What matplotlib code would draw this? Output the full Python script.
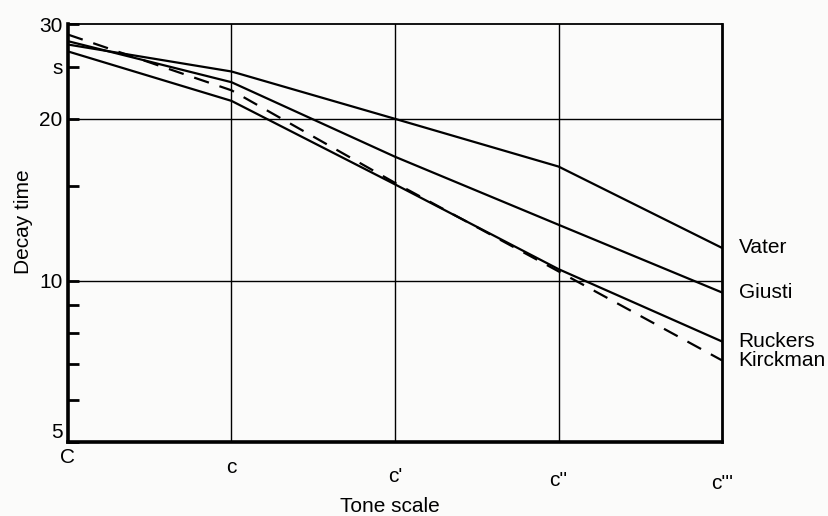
import matplotlib.pyplot as plt
from matplotlib.ticker import FixedLocator, NullFormatter

plt.rcParams['font.family'] = ['Liberation Sans', 'DejaVu Sans']

# Tonlage (Oktaven ab C)
tones = ['C', 'c', "c'", "c''", "c'''"]
x = [0, 1, 2, 3, 4]

# Abklingzeit in s
vater = [27.5, 24.5, 20.0, 16.3, 11.5]
giusti = [27.9, 23.4, 17.0, 12.7, 9.5]
ruckers = [26.7, 21.6, 15.1, 10.5, 7.7]
kirckman = [28.7, 22.6, 15.2, 10.4, 7.1]

names = ['Vater', 'Giusti', 'Ruckers', 'Kirckman']

fig = plt.figure(figsize=(8.29, 5.16), dpi=100, facecolor='#fbfbfa')
ax = fig.add_axes([0.082, 0.143, 0.789, 0.81])
ax.set_facecolor('#fbfbfa')

ax.set_yscale('log')
ax.set_ylim(5, 30)
ax.set_xlim(0, 4)

# Gitter
for v in [10, 20]:
    ax.axhline(v, color='black', lw=1.0, zorder=1)
for v in [1, 2, 3]:
    ax.axvline(v, color='black', lw=1.0, zorder=1)

ax.plot(x, vater, color='black', lw=1.6)
ax.plot(x, giusti, color='black', lw=1.6)
ax.plot(x, ruckers, color='black', lw=1.6)
ax.plot(x, kirckman, color='black', lw=1.6, linestyle=(0, (7, 5)))

# Beschriftung rechts
ends = [vater[-1], giusti[-1], ruckers[-1], kirckman[-1]]
for name, yv in zip(names, ends):
    ax.annotate(name, xy=(4, yv), xytext=(12, 0), textcoords='offset points',
                va='center', ha='left', fontsize=15, annotation_clip=False)

# Achsen
ax.spines['left'].set_linewidth(2.6)
ax.spines['bottom'].set_linewidth(2.6)
ax.spines['right'].set_linewidth(2.0)
ax.spines['top'].set_linewidth(1.3)

ax.yaxis.set_major_locator(FixedLocator([5, 10, 20, 25, 30]))
ax.set_yticklabels(['5', '10', '20', 's', '30'])
ax.yaxis.set_minor_locator(FixedLocator([6, 7, 8, 9, 15]))
ax.yaxis.set_minor_formatter(NullFormatter())
ax.tick_params(axis='y', which='both', direction='in', length=8, width=2,
               labelsize=15, pad=4)
ax.get_yticklabels()[0].set_va('bottom')

# x-Beschriftung, wie in der Vorlage leicht gestaffelt
ax.set_xticks([])
drops = [11, 18.5, 25, 27.5, 29.5]
for xi, lab, d in zip(x, tones, drops):
    ax.annotate(lab, xy=(xi, 0), xycoords=('data', 'axes fraction'),
                xytext=(0, -d), textcoords='offset points',
                ha='center', va='center', fontsize=15, annotation_clip=False)

ax.annotate('Tone scale', xy=(1.97, 0), xycoords=('data', 'axes fraction'),
            xytext=(0, -46), textcoords='offset points',
            ha='center', va='center', fontsize=15, annotation_clip=False)
fig.text(24 / 829, 1 - 222 / 516, 'Decay time', rotation=90,
         ha='center', va='center', fontsize=15)

fig.savefig('out.png', dpi=100, facecolor=fig.get_facecolor())
